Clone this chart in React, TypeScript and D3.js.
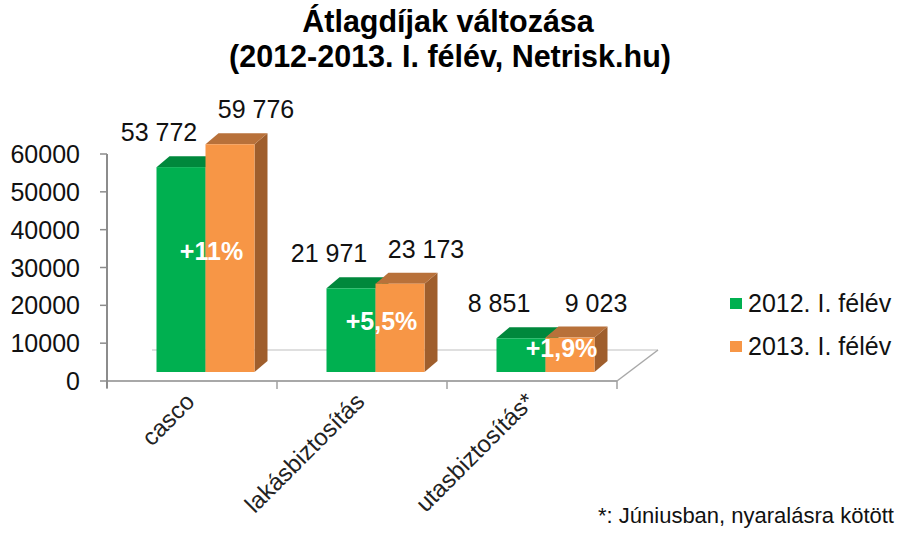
import React from "react";
import * as d3 from "d3";

const titleLines = ["Átlagdíjak változása", "(2012-2013. I. félév, Netrisk.hu)"];
const categories = ["casco", "lakásbiztosítás", "utasbiztosítás*"];
const seriesNames = ["2012. I. félév", "2013. I. félév"];
const values2012 = [53772, 21971, 8851];
const values2013 = [59776, 23173, 9023];
const changeLabels = ["+11%", "+5,5%", "+1,9%"];
const yTicks = [0, 10000, 20000, 30000, 40000, 50000, 60000];
const footnote = "*: Júniusban, nyaralásra kötött";

const W = 903;
const H = 540;
const FONT = "'Liberation Sans', Arial, sans-serif";
const GREEN = "#00B050";
const GREEN_TOP = "#00883C";
const ORANGE = "#F79646";
const ORANGE_TOP = "#B8713A";
const ORANGE_SIDE = "#9F5E2C";

export default function App() {
  const axisX = 107;
  const floorY = 381;
  const depthX = 41;
  const depthY = -31;
  const barBase = 372;
  const barW = 49;
  const dX = 13;
  const dY = -11;

  const yAxis = d3.scaleLinear().domain([0, 60000]).range([floorY, 154]);
  const yBar = d3.scaleLinear().domain([0, 60000]).range([barBase, barBase - 60000 * 0.00381]);
  const x = d3.scaleBand<string>().domain(categories).range([axisX, 617]).padding(0);
  const fmt = (v: number) => d3.format(",")(v).replace(/,/g, " ");

  const series = [
    { name: seriesNames[0], values: values2012, front: GREEN, top: GREEN_TOP, side: "#007A36", colorLegend: GREEN },
    { name: seriesNames[1], values: values2013, front: ORANGE, top: ORANGE_TOP, side: ORANGE_SIDE, colorLegend: ORANGE },
  ];

  const bar3d = (bx: number, v: number, s: typeof series[0], key: string) => {
    const yt = yBar(v);
    const top = [
      [bx, yt],
      [bx + dX, yt + dY],
      [bx + barW + dX, yt + dY],
      [bx + barW, yt],
    ];
    const side = [
      [bx + barW, yt],
      [bx + barW + dX, yt + dY],
      [bx + barW + dX, barBase + dY],
      [bx + barW, barBase],
    ];
    const pts = (p: number[][]) => p.map((q) => q.join(",")).join(" ");
    return (
      <g key={key}>
        <polygon points={pts(side)} fill={s.side} />
        <polygon points={pts(top)} fill={s.top} />
        <rect x={bx} y={yt} width={barW} height={barBase - yt} fill={s.front} />
      </g>
    );
  };

  const xEnd = x.range()[1];

  return (
    <svg
      width={W}
      height={H}
      style={{ position: "absolute", left: 0, top: 0, background: "#fff" }}
      fontFamily={FONT}
    >
      <rect width={W} height={H} fill="#fff" />
      {/* Title */}
      <text x={448} y={32} textAnchor="middle" fontSize={30.5} fontWeight="bold" fill="#000">
        {titleLines[0]}
      </text>
      <text x={450} y={67} textAnchor="middle" fontSize={30.5} fontWeight="bold" fill="#000">
        {titleLines[1]}
      </text>

      {/* Floor */}
      <line x1={axisX + depthX + 4} y1={floorY + depthY} x2={xEnd + depthX} y2={floorY + depthY} stroke="#d4d4d4" strokeWidth={1.5} />
      <line x1={xEnd} y1={floorY} x2={xEnd + depthX} y2={floorY + depthY} stroke="#a8a8a8" strokeWidth={1.5} />
      <line x1={axisX} y1={floorY} x2={xEnd} y2={floorY} stroke="#a8a8a8" strokeWidth={2} />
      {/* x ticks */}
      {categories.map((c) => (
        <line key={"xt" + c} x1={x(c)!} y1={floorY} x2={x(c)!} y2={floorY + 8} stroke="#a0a0a0" strokeWidth={1.5} />
      ))}
      <line x1={xEnd} y1={floorY} x2={xEnd} y2={floorY + 8} stroke="#a0a0a0" strokeWidth={1.5} />

      {/* Y axis */}
      <line x1={axisX} y1={yAxis(60000)} x2={axisX} y2={floorY + 7} stroke="#8c8c8c" strokeWidth={2} />
      {yTicks.map((t) => (
        <g key={"yt" + t}>
          <line x1={axisX - 7} y1={yAxis(t)} x2={axisX} y2={yAxis(t)} stroke="#8c8c8c" strokeWidth={1.5} />
          <text x={80} y={yAxis(t)} dy="0.36em" textAnchor="end" fontSize={25} fill="#111">
            {t}
          </text>
        </g>
      ))}

      {/* Bars */}
      {categories.map((c, i) => {
        const gx = x(c)! + 49.5;
        return (
          <g key={"bars" + c}>
            {bar3d(gx, series[0].values[i], series[0], "g" + i)}
            {bar3d(gx + barW, series[1].values[i], series[1], "o" + i)}
          </g>
        );
      })}

      {/* Change labels */}
      {categories.map((c, i) => {
        const gx = x(c)! + 49.5;
        const h = barBase - yBar(values2013[i]);
        const shift = h < 60 ? 16 : 6;
        return (
          <text
            key={"pct" + c}
            x={gx + barW + shift}
            y={yBar(values2013[i] / 2) + 2}
            textAnchor="middle"
            fontSize={25}
            fontWeight="bold"
            fill="#fff"
          >
            {changeLabels[i]}
          </text>
        );
      })}

      {/* Value labels */}
      {categories.map((c, i) => {
        const gx = x(c)! + 49.5;
        return (
          <g key={"vl" + c}>
            <text x={gx + barW / 2 - 22} y={yBar(values2012[i]) - 26} textAnchor="middle" fontSize={25} fill="#111">
              {fmt(values2012[i])}
            </text>
            <text x={gx + barW * 1.5 + 26} y={yBar(values2013[i]) - 26} textAnchor="middle" fontSize={25} fill="#111">
              {fmt(values2013[i])}
            </text>
          </g>
        );
      })}

      {/* Category labels */}
      {categories.map((c) => {
        const cx = x(c)! + x.bandwidth() / 2 + 4;
        const cy = 403;
        return (
          <text
            key={"cl" + c}
            x={cx}
            y={cy}
            transform={`rotate(-45, ${cx}, ${cy})`}
            textAnchor="end"
            fontSize={24}
            fill="#222"
          >
            {c}
          </text>
        );
      })}

      {/* Legend */}
      {series.map((s, i) => (
        <g key={"lg" + i} transform={`translate(730, ${298 + i * 43})`}>
          <rect x={0} y={0} width={12} height={11} fill={s.colorLegend} />
          <text x={18} y={14} fontSize={25} fill="#111">
            {s.name}
          </text>
        </g>
      ))}

      {/* Footnote */}
      <text x={598} y={523} fontSize={22} fill="#111">
        {footnote}
      </text>
    </svg>
  );
}
